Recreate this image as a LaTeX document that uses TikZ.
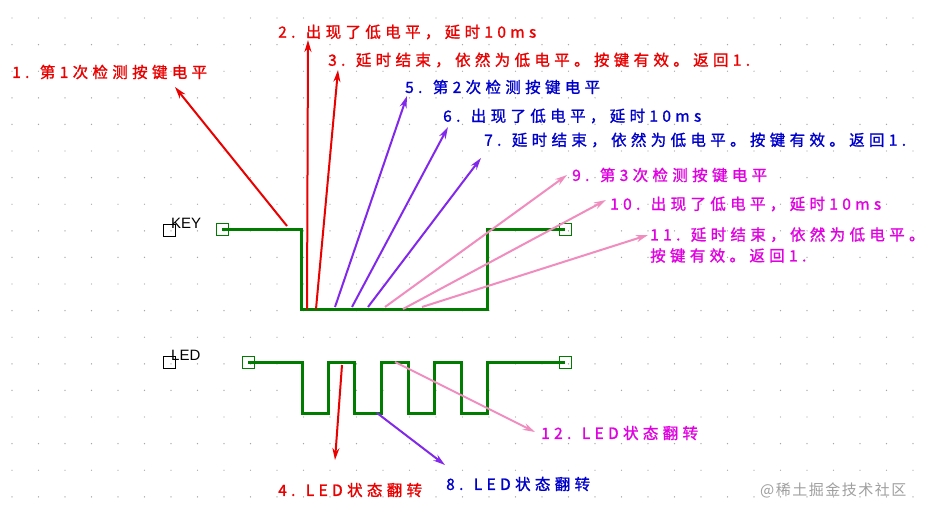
\documentclass[tikz,border=0pt]{standalone}
\usepackage{fontspec}
\setmainfont{Liberation Sans}
\newfontfamily\cjk[LetterSpace=28,FakeBold=1.2]{Noto Sans CJK SC}
\newfontfamily\cjkw[LetterSpace=10]{Noto Sans CJK SC}
\usetikzlibrary{arrows.meta}
\definecolor{wred}{RGB}{235,0,0}
\definecolor{wpur}{RGB}{130,40,235}
\definecolor{wpink}{RGB}{240,140,190}
\definecolor{tblue}{RGB}{0,0,205}
\definecolor{tmag}{RGB}{225,0,225}
\definecolor{wgreen}{RGB}{0,125,0}
\tikzset{
 lbl/.style={anchor=west,inner sep=0pt,font=\cjk\fontsize{15.5}{21}\selectfont},
 arr/.style={line width=2pt,-{Stealth[length=12pt,width=7pt]}},
 wave/.style={wgreen,line width=3pt},
 pin/.style={draw=wgreen,line width=1pt,minimum size=12pt,inner sep=0pt},
 bpin/.style={draw=black,line width=1pt,minimum size=12pt,inner sep=0pt}
}
\begin{document}
\begin{tikzpicture}[x=1pt,y=-1pt]
\useasboundingbox (0,0) rectangle (938,515);
\fill[white] (0,0) rectangle (938,515);
\foreach \i in {0,...,35}{\foreach \j in {0,...,18}{
  \fill[gray!70] (12+26.5*\i,18+26.6*\j) circle (0.7);}}
% KEY
\node[bpin] (kp) at (169,230) {};
\node[anchor=south west,inner sep=0pt,font=\fontsize{15}{15}\selectfont] (klbl) at (171,229) {KEY};
\node[pin] (k1) at (222,229) {};
\node[pin] (k2) at (565,229) {};
\draw[wave] (k1.center) -- (301,229) -- (301,309) -- (487,309) -- (487,229) -- (k2.center);
% LED
\node[bpin] (lp) at (169,362) {};
\node[anchor=south west,inner sep=0pt,font=\fontsize{15}{15}\selectfont] (llbl) at (171,361) {LED};
\node[pin] (l1) at (248,362) {};
\node[pin] (l2) at (565,362) {};
\draw[wave] (l1.center) -- (302,362) -- (302,413) -- (328,413) -- (328,362) -- (354,362) -- (354,413) -- (381,413) -- (381,362) -- (408,362) -- (408,413) -- (434,413) -- (434,362) -- (461,362) -- (461,413) -- (487,413) -- (487,362) -- (l2.center);
% labels
\node[lbl,text=wred] (t1) at (12,72) {1. 第1次检测按键电平};
\node[lbl,text=wred] (t2) at (278,32) {2. 出现了低电平，延时10ms};
\node[lbl,text=wred] (t3) at (328,60) {3. 延时结束，依然为低电平。按键有效。返回1.};
\node[lbl,text=tblue] (t5) at (405,87) {5. 第2次检测按键电平};
\node[lbl,text=tblue] (t6) at (443,116) {6. 出现了低电平，延时10ms};
\node[lbl,text=tblue] (t7) at (484,140) {7. 延时结束，依然为低电平。按键有效。返回1.};
\node[lbl,text=tmag] (t9) at (572,175) {9. 第3次检测按键电平};
\node[lbl,text=tmag] (t10) at (610,204) {10. 出现了低电平，延时10ms};
\node[lbl,text=tmag,align=left] (t11) at (650,245) {11. 延时结束，依然为低电平。\\按键有效。返回1.};
\node[lbl,text=tmag] (t12) at (541,433) {12. LED状态翻转};
\node[lbl,text=wred] (t4) at (278,490) {4. LED状态翻转};
\node[lbl,text=tblue] (t8) at (446,484) {8. LED状态翻转};
\node[anchor=west,inner sep=0pt,text=gray!75,font=\cjkw\fontsize{15}{15}\selectfont] (wm) at (760,490) {@稀土掘金技术社区};
% arrows
\coordinate (a1) at (287,226); \coordinate (h1) at (175,87);
\coordinate (a2) at (307,309); \coordinate (h2) at (308,40);
\coordinate (a3) at (316,309); \coordinate (h3) at (338,70);
\coordinate (a5) at (335,307); \coordinate (h5) at (407,96);
\coordinate (a6) at (352,307); \coordinate (h6) at (448,127);
\coordinate (a7) at (368,307); \coordinate (h7) at (481,158);
\coordinate (a9) at (385,307); \coordinate (h9) at (567,175);
\coordinate (a10) at (403,309); \coordinate (h10) at (606,200);
\coordinate (a11) at (422,307); \coordinate (h11) at (648,235);
\coordinate (a4) at (342,365); \coordinate (h4) at (335,460);
\coordinate (a8) at (377,413); \coordinate (h8) at (445,465);
\coordinate (a12) at (395,362); \coordinate (h12) at (535,432);
\draw[arr,wred] (a1) -- (h1);
\draw[arr,wred] (a2) -- (h2);
\draw[arr,wred] (a3) -- (h3);
\draw[arr,wred] (a4) -- (h4);
\draw[arr,wpur] (a5) -- (h5);
\draw[arr,wpur] (a6) -- (h6);
\draw[arr,wpur] (a7) -- (h7);
\draw[arr,wpur] (a8) -- (h8);
\draw[arr,wpink] (a9) -- (h9);
\draw[arr,wpink] (a10) -- (h10);
\draw[arr,wpink] (a11) -- (h11);
\draw[arr,wpink] (a12) -- (h12);
\end{tikzpicture}
\end{document}
